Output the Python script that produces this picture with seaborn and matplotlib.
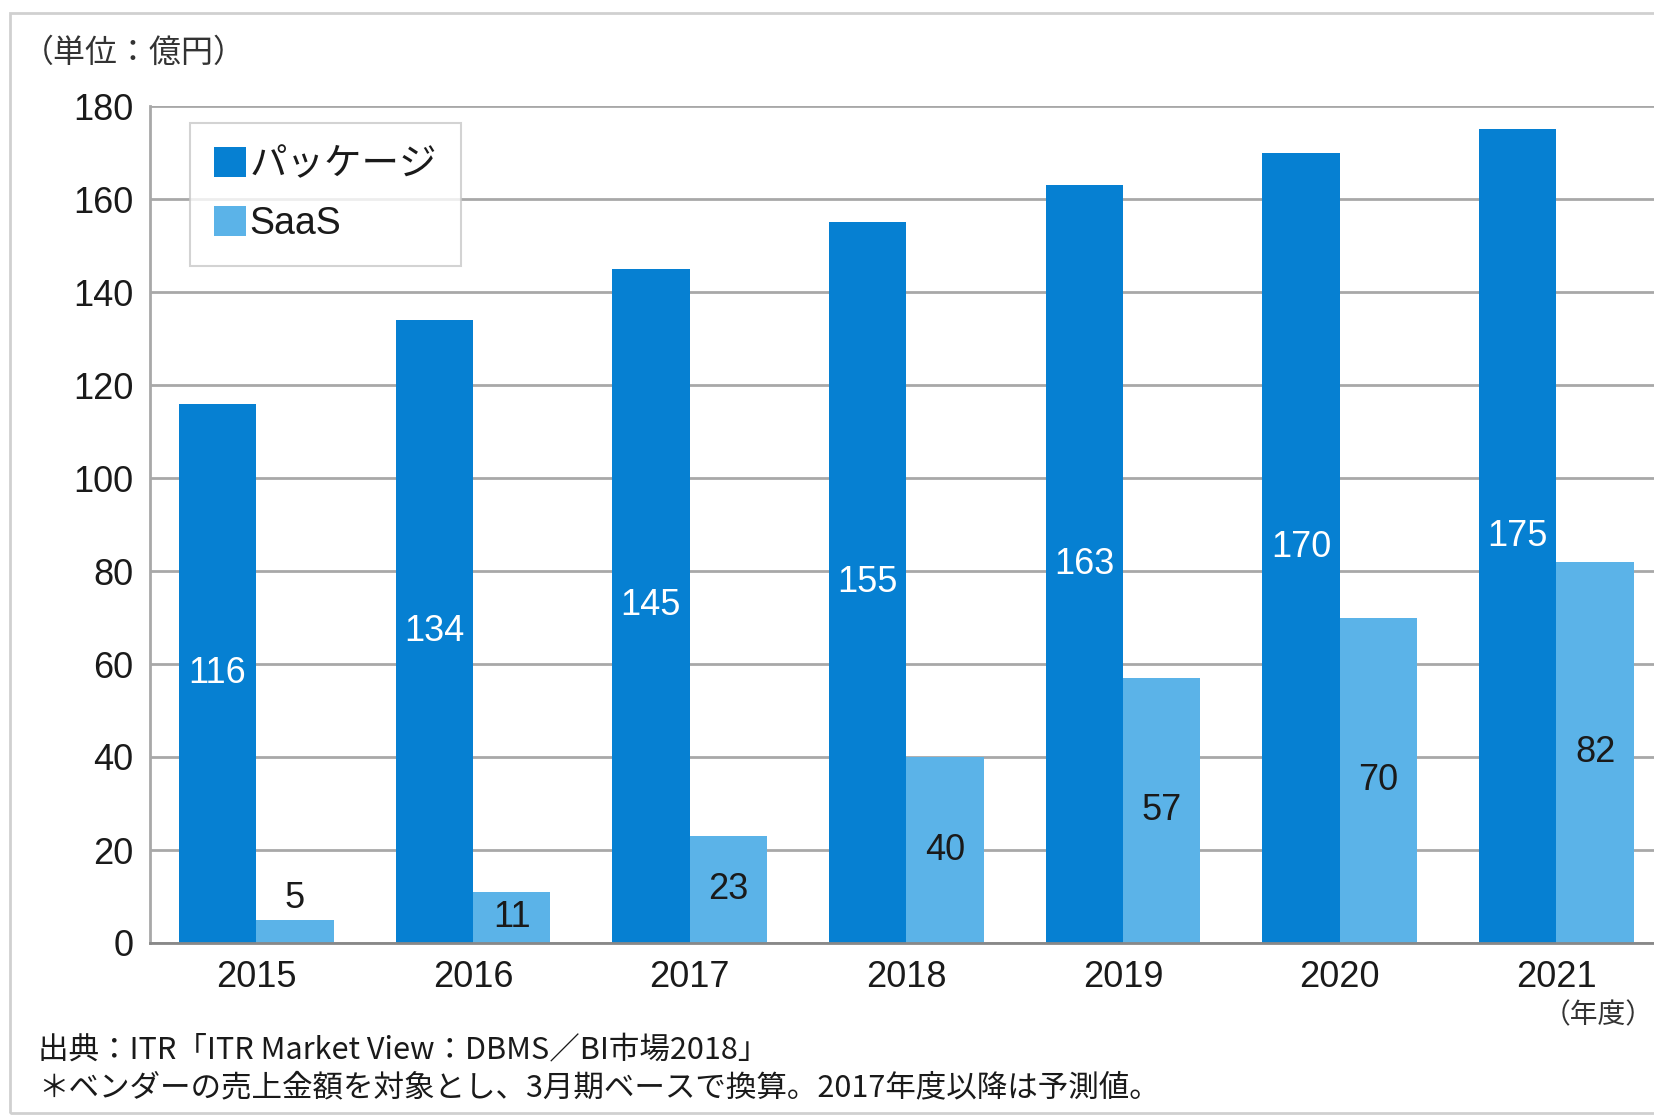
import matplotlib
matplotlib.use("Agg")
import matplotlib.pyplot as plt
import seaborn as sns
import pandas as pd
from matplotlib.patches import Rectangle

# データ
years = ["2015", "2016", "2017", "2018", "2019", "2020", "2021"]
package = [116, 134, 145, 155, 163, 170, 175]
saas = [5, 11, 23, 40, 57, 70, 82]
series_names = ["パッケージ", "SaaS"]
colors = ["#0680D2", "#5BB3E8"]

unit_label = "（単位：億円）"
year_unit = "（年度）"
note1 = "出典：ITR「ITR Market View：DBMS／BI市場2018」"
note2 = "＊ベンダーの売上金額を対象とし、3月期ベースで換算。2017年度以降は予測値。"

df = pd.DataFrame({
    "year": years * 2,
    "value": package + saas,
    "type": [series_names[0]] * len(years) + [series_names[1]] * len(years),
})

W, H = 1654, 1118
sns.set_theme(style="white")
plt.rcParams["font.family"] = ["Liberation Sans", "Noto Sans CJK JP", "DejaVu Sans"]
jp = ["Noto Sans CJK JP", "DejaVu Sans"]

fig = plt.figure(figsize=(W / 100, H / 100), dpi=100)
ax = fig.add_axes([150 / W, 1 - 943 / H, 1 - 150 / W, (943 - 106) / H])

sns.barplot(data=df, x="year", y="value", hue="type", palette=colors,
            width=0.714, gap=0, saturation=1, linewidth=0, edgecolor="none",
            ax=ax, legend=True)

ax.set_ylim(0, 180)
ax.set_yticks(range(0, 181, 20))
ax.set_xlim(-0.49, 6.45)
ax.yaxis.grid(True, color="#A8A8A8", linewidth=2)
ax.set_axisbelow(True)
ax.set_xlabel("")
ax.set_ylabel("")
ax.tick_params(axis="both", length=0, labelsize=26, colors="#1A1A1A")
ax.tick_params(axis="y", pad=12)
ax.tick_params(axis="x", pad=12)
for s in ["top", "right"]:
    ax.spines[s].set_visible(False)
ax.spines["left"].set_color("#A8A8A8")
ax.spines["left"].set_linewidth(2)
ax.spines["bottom"].set_color("#888888")
ax.spines["bottom"].set_linewidth(2)

# 値ラベル
for bar, v in zip(ax.containers[0], package):
    ax.text(bar.get_x() + bar.get_width() / 2, v / 2, str(v),
            ha="center", va="center", color="white", fontsize=26)
for bar, v in zip(ax.containers[1], saas):
    y = v / 2 if v > 8 else v + 4.5
    ax.text(bar.get_x() + bar.get_width() / 2, y, str(v),
            ha="center", va="center", color="#1A1A1A", fontsize=26)

# 凡例
handles, labels = ax.get_legend_handles_labels()
leg = ax.legend(handles, labels, loc="upper left",
                bbox_to_anchor=(190 / W, 1 - 123 / H), bbox_transform=fig.transFigure,
                fontsize=27, frameon=True, fancybox=False, shadow=False,
                handlelength=0.85, handleheight=0.85, handletextpad=0.08,
                labelspacing=0.6, borderpad=0.65, borderaxespad=0)
leg.get_frame().set_edgecolor("#C8C8C8")
leg.get_frame().set_linewidth(1.5)
for t in leg.get_texts():
    t.set_color("#1A1A1A")

fig.text(22 / W, 1 - 53 / H, unit_label, fontsize=23, color="#333333",
         va="center", ha="left", family=jp)
fig.text(1654 / W, 1 - 1015 / H, year_unit, fontsize=20, color="#333333",
         va="center", ha="right", family=jp)
fig.text(38 / W, 1 - 1050 / H, note1, fontsize=22, color="#1A1A1A",
         va="center", ha="left", family=jp)
fig.text(38 / W, 1 - 1088 / H, note2, fontsize=22, color="#1A1A1A",
         va="center", ha="left", family=jp)

# 外枠
fig.patches.append(Rectangle((10 / W, 1 - 1113 / H), 1.2, (1113 - 13) / H,
                             transform=fig.transFigure, fill=False,
                             edgecolor="#D0D0D0", linewidth=2))

fig.savefig("out.png", dpi=100)
